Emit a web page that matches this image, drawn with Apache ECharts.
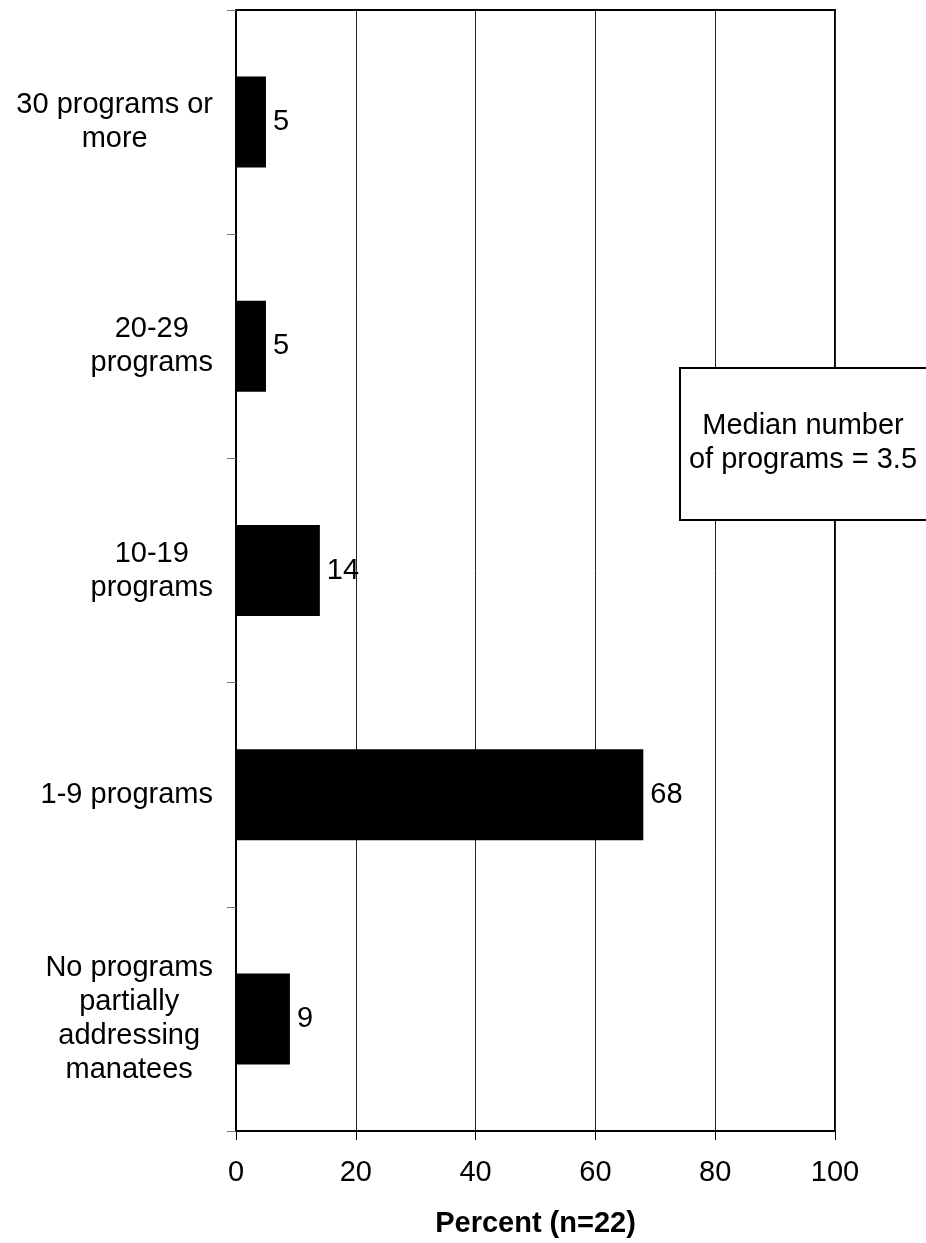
<!DOCTYPE html>
<html>
<head>
<meta charset="utf-8">
<script src="https://cdn.jsdelivr.net/npm/echarts/dist/echarts.min.js"></script>
<style>
  html, body { margin: 0; padding: 0; background: #fff; }
  #chart { width: 926px; height: 1243px; }
</style>
</head>
<body>
<div id="chart"></div>
<script>
// categories bottom -> top (category axis draws the first item at the bottom)
const categories = [
  'No programs\npartially\naddressing\nmanatees',
  '1-9 programs',
  '10-19\nprograms',
  '20-29\nprograms',
  '30 programs or\nmore'
]
const percents = [9, 68, 14, 5, 5]
const xTicks = [0, 20, 40, 60, 80, 100]
const noteText = 'Median number\nof programs = 3.5'

const font = '"Liberation Sans", Arial, sans-serif'

const chart = echarts.init(document.getElementById('chart'))
const option = {
  backgroundColor: '#fff',
  animation: false,
  textStyle: { fontFamily: font, color: '#000' },
  grid: {
    left: 236,
    right: 91,
    top: 10,
    bottom: 112,
    show: true,
    borderColor: '#000',
    borderWidth: 2,
    backgroundColor: 'transparent'
  },
  xAxis: {
    type: 'value',
    min: xTicks[0],
    max: xTicks[xTicks.length - 1],
    interval: 20,
    name: 'Percent (n=22)',
    nameLocation: 'middle',
    nameGap: 78,
    nameTextStyle: { fontFamily: font, fontSize: 29, fontWeight: 'bold', color: '#000' },
    axisLine: { lineStyle: { color: '#000', width: 2 } },
    axisTick: { show: true, length: 9, lineStyle: { color: '#000', width: 1 } },
    axisLabel: { fontFamily: font, fontSize: 29, color: '#000', margin: 27 },
    splitLine: { show: true, lineStyle: { color: '#222', width: 1 } }
  },
  yAxis: {
    type: 'category',
    data: categories,
    axisLine: { lineStyle: { color: '#000', width: 2 } },
    axisTick: { show: true, length: 9, lineStyle: { color: '#777', width: 1 } },
    axisLabel: {
      margin: 23,
      formatter: value => value.split('\n').map(s => `{c|${s}}`).join('\n'),
      rich: {
        c: { align: 'center', fontFamily: font, fontSize: 29, lineHeight: 34, color: '#000' }
      }
    },
    splitLine: { show: false }
  },
  series: [
    {
      type: 'bar',
      data: percents,
      barWidth: '40.6%',
      itemStyle: { color: '#000' },
      label: {
        show: true,
        position: 'right',
        distance: 7,
        fontFamily: font,
        fontSize: 29,
        color: '#000'
      }
    }
  ],
  graphic: [
    {
      type: 'rect',
      z: 100,
      shape: { x: 680, y: 368, width: 248, height: 152 },
      style: { fill: '#fff', stroke: '#000', lineWidth: 2 }
    },
    {
      type: 'text',
      z: 101,
      x: 803,
      y: 443,
      style: {
        text: noteText,
        fontFamily: font,
        fontSize: 29,
        lineHeight: 34,
        fill: '#000',
        align: 'center',
        verticalAlign: 'middle'
      }
    }
  ]
}
chart.setOption(option)
</script>
</body>
</html>
